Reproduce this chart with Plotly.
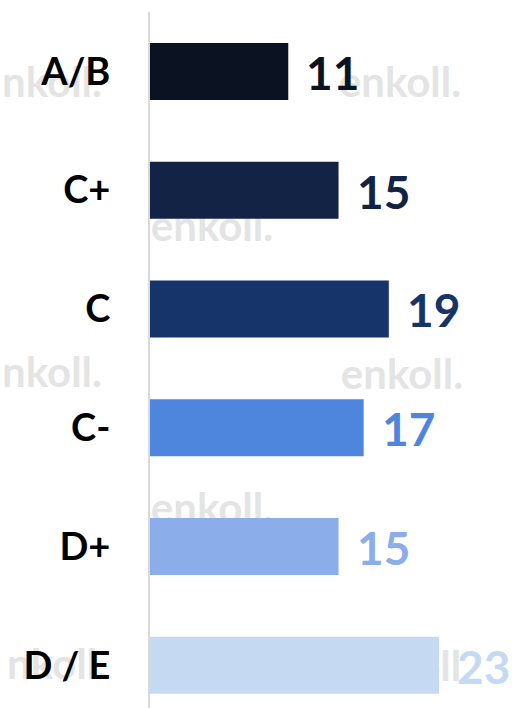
import plotly.graph_objects as go

categories = ["A/B", "C+", "C", "C-", "D+", "D / E"]
values = [11, 15, 19, 17, 15, 23]
colors = ["#0b1222", "#122345", "#163469", "#4f86dd", "#8badea", "#c6d9f3"]

W, H = 512, 708
ML, MT = 150, 12

fig = go.Figure()
fig.add_trace(go.Bar(
    y=categories, x=values, orientation="h",
    marker=dict(color=colors, line=dict(width=0)),
    width=0.48, hoverinfo="skip",
))

for c, v, col in zip(categories, values, colors):
    fig.add_annotation(x=v, y=c, xref="x", yref="y", text=str(v),
                       showarrow=False, xanchor="left", yanchor="middle",
                       xshift=16, yshift=-1,
                       font=dict(family="Lato", size=46, color=col, weight="bold"))

# faint background watermarks (text, center px)
marks = [("nkoll.", 52, 80), ("enkoll.", 400, 80), ("enkoll.", 212, 224),
         ("nkoll.", 52, 370), ("enkoll.", 402, 372), ("enkoll.", 212, 506),
         ("nkoll.", 57, 662), ("enkoll.", 410, 664)]
pw, ph = W - ML, H - MT
for (t, cx, cy) in marks:
    px = (cx - ML) / pw
    py = (H - cy) / ph
    fig.add_shape(type="rect", xref="paper", yref="paper",
                  x0=px - 0.2, x1=px + 0.2, y0=py - 0.05, y1=py + 0.05,
                  line=dict(width=0), fillcolor="rgba(0,0,0,0)", layer="below",
                  label=dict(text=t, textposition="middle center",
                             font=dict(family="Lato", size=42, color="#e4e4e4",
                                       weight="bold")))

fig.update_layout(
    width=W, height=H,
    margin=dict(l=ML, r=0, t=MT, b=0),
    paper_bgcolor="white", plot_bgcolor="rgba(0,0,0,0)",
    showlegend=False,
    bargap=0.52,
    xaxis=dict(range=[0, 28.8], visible=False, fixedrange=True, automargin=False),
    yaxis=dict(range=[5.36, -0.5], showgrid=False, zeroline=False,
               showline=True, linecolor="#d9d9d9", linewidth=2,
               ticks="", ticklabelstandoff=30, automargin=False, fixedrange=True,
               tickfont=dict(family="Lato", size=38, color="black", weight="bold")),
)

fig.write_html("out.html", config={"displayModeBar": False},
               post_script="document.body.style.margin='0';document.body.style.overflow='hidden';")
